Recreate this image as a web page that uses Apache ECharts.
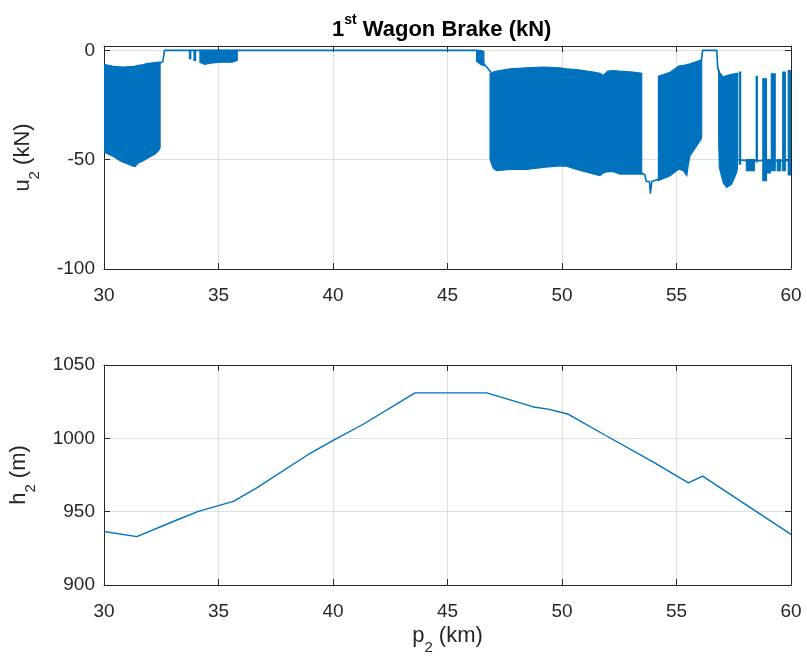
<!DOCTYPE html>
<html>
<head>
<meta charset="utf-8">
<script src="https://cdn.jsdelivr.net/npm/echarts@6/dist/echarts.min.js"></script>
<style>
  html, body { margin: 0; background: #fff; }
  #chart { width: 807px; height: 657px; }
</style>
</head>
<body>
<div id="chart"></div>
<script>
// x ticks (km)
const kmTicks = [30, 35, 40, 45, 50, 55, 60];

// brake force trace outside the dense oscillation bands ('-' breaks the line)
const traceKm = [32.45, 32.57, 32.64, 46.3, 46.3, 46.58, 46.7, 46.9, 46.9,
  53.48, 53.62, 53.68, 53.82, 53.86, 53.92, 54.05, 54.21, 54.21,
  56.08, 56.14, 56.76, 56.8, 56.87, 56.87,
  57.66, 58.0, 58.3, 58.6, 59.0, 59.5, 60];
const traceKN = [-6, -5, 0, 0, '-', -6, -7.5, -10, '-',
  -56, -57, -60, -60, -65.5, -60, -59.5, -59, '-',
  -5, 0, 0, -8, -10, '-',
  -50, -50.3, -50.2, -50.5, -50.2, -50.6, -50.4];

// envelopes of the dense oscillation: [km, upper kN, lower kN]
const bandA = [[30, -6.4, -46.5], [30.41, -7.3, -48.5], [30.7, -7.5, -50.5], [30.84, -7.6, -51.2],
  [31.28, -7.3, -53], [31.35, -7.2, -53.2], [31.5, -6.9, -51.5], [31.72, -6.5, -50.5],
  [31.86, -6.1, -49.6], [32.23, -5.6, -47.4], [32.37, -5.4, -46], [32.45, -5.4, -44.6]];
const bandB = [[34.19, 0, -5.5], [34.4, 0, -6.4], [34.65, 0, -5.8], [35.1, 0, -5.4],
  [35.6, 0, -5.4], [35.82, 0, -4.6]];
const bandC = [[46.27, 0, -5], [46.45, 0, -6.5], [46.59, -0.5, -7]];
const bandD = [[46.86, -10.5, -50], [47.0, -9.9, -54], [47.15, -9.5, -55], [47.73, -8.4, -54.5],
  [48.46, -8, -54.5], [49.18, -7.6, -53.5], [49.91, -8, -52.8], [50.2, -8.4, -53],
  [50.64, -8.8, -54.5], [51.37, -9.9, -56.5], [51.66, -10.5, -57.3], [51.8, -11.5, -56],
  [52.0, -9.5, -55.5], [52.24, -9.2, -55.5], [52.53, -9.5, -56.6], [53.1, -9.9, -56.6],
  [53.48, -10.5, -56.6]];
const bandE = [[54.21, -11.9, -59.6], [54.72, -10, -57.3], [55.1, -7.2, -54.3], [55.3, -6.9, -55],
  [55.45, -6.5, -57.3], [55.52, -6.3, -52], [55.59, -6.1, -48.2], [56.03, -4.6, -41.3],
  [56.1, -4.5, -40]];
const bandF = [[56.84, -9, -40], [56.87, -9.9, -53.5], [57.04, -12.2, -60.6], [57.19, -11.5, -62.7],
  [57.41, -11, -61.2], [57.63, -10.5, -55.8], [57.66, -10.5, -54]];

// narrow spikes / dips: [km from, km to, upper kN, lower kN]
const spikes = [[33.73, 33.79, 0, -3.8], [33.93, 34.0, 0, -4.6],
  [57.74, 57.8, -9.9, -52], [58.48, 58.53, -11.9, -51],
  [58.77, 58.93, -13, -59.6], [59.14, 59.31, -10.7, -55],
  [59.64, 59.75, -9.9, -55], [59.88, 60, -9.2, -57],
  [58.05, 58.4, -50, -55], [58.95, 59.1, -50, -56], [59.4, 59.55, -50, -55]];

// elevation profile
const hKm = [30, 31.43, 33.1, 34.12, 35.65, 36.67, 38.92, 40.09, 41.32, 43.58, 46.71,
  48.75, 49.4, 50.28, 51.95, 53.99, 55.52, 56.14, 60];
const hM = [936.5, 933, 943.8, 950.2, 957, 966.2, 989, 999.3, 1009.6, 1031, 1031,
  1021.4, 1019.9, 1016.4, 1001.6, 983.8, 969.6, 974.2, 934.5];

const blue = '#0072BD';
const ink = '#262626';
const font = 'Liberation Sans, Arial, sans-serif';

const uBands = [bandA, bandB, bandC, bandD, bandE, bandF]
  .concat(spikes.map(s => [[s[0], s[2], s[3]], [s[1], s[2], s[3]]]));

function bandItem(params, api) {
  const b = uBands[api.value(2)];
  const pts = b.map(p => api.coord([p[0], p[1]]))
    .concat(b.slice().reverse().map(p => api.coord([p[0], p[2]])));
  return {
    type: 'polygon',
    shape: { points: pts },
    style: { fill: blue, stroke: blue, lineWidth: 1.2 },
  };
}

const nameRich = {
  t: { fontSize: 22, fontFamily: font, color: ink, lineHeight: 30, verticalAlign: 'top' },
  s: { fontSize: 15, fontFamily: font, color: ink, lineHeight: 14, verticalAlign: 'bottom' },
};

function xAx(grid, top, extra) {
  return Object.assign({
    gridIndex: grid, type: 'value', min: 30, max: 60, interval: 5,
    position: top ? 'top' : 'bottom',
    axisLine: { show: true, onZero: false, lineStyle: { color: ink, width: 1 } },
    axisTick: { show: true, inside: true, length: 6, lineStyle: { color: ink } },
    axisLabel: { show: !top, color: ink, fontSize: 19, fontFamily: font, margin: 17 },
    splitLine: { show: !top, lineStyle: { color: '#dfdfdf', width: 1 } },
  }, extra || {});
}

function yAx(grid, right, min, max, extra) {
  return Object.assign({
    gridIndex: grid, type: 'value', min: min, max: max, interval: 50,
    position: right ? 'right' : 'left',
    axisLine: { show: true, onZero: false, lineStyle: { color: ink, width: 1 } },
    axisTick: { show: true, inside: true, length: 6, lineStyle: { color: ink } },
    axisLabel: {
      show: !right, color: ink, fontSize: 19, fontFamily: font, margin: 9,
      formatter: v => (v % 50 === 0 ? String(v) : ''),
    },
    splitLine: { show: !right, lineStyle: { color: '#dfdfdf', width: 1 } },
  }, extra || {});
}

const chart = echarts.init(document.getElementById('chart'), null, { renderer: 'canvas' });

chart.setOption({
  animation: false,
  backgroundColor: '#fff',
  title: {
    text: '{a|1}{s|st}{a| Wagon Brake (kN)}',
    left: 327,
    top: 8,
    textStyle: {
      rich: {
        a: { fontSize: 22, fontWeight: 'bold', fontFamily: font, color: '#000', lineHeight: 28, verticalAlign: 'bottom' },
        s: { fontSize: 14, fontWeight: 'bold', fontFamily: font, color: '#000', lineHeight: 14, verticalAlign: 'top' },
      },
    },
  },
  grid: [
    { left: 104, right: 16, top: 46, height: 223 },
    { left: 104, right: 16, top: 365, height: 220 },
  ],
  xAxis: [
    xAx(0, false),
    xAx(0, true),
    xAx(1, false, {
      name: '{t|p}{s|2}{t| (km)}',
      nameLocation: 'middle',
      nameGap: 40,
      nameTextStyle: { rich: nameRich },
    }),
    xAx(1, true),
  ],
  yAxis: [
    yAx(0, false, -100, 2, {
      name: '{t|u}{s|2}{t| (kN)}',
      nameLocation: 'middle',
      nameGap: 62,
      nameTextStyle: { rich: nameRich },
    }),
    yAx(0, true, -100, 2),
    yAx(1, false, 900, 1050, {
      name: '{t|h}{s|2}{t| (m)}',
      nameLocation: 'middle',
      nameGap: 66,
      nameTextStyle: { rich: nameRich },
    }),
    yAx(1, true, 900, 1050),
  ],
  series: [
    {
      name: 'trace',
      type: 'line',
      xAxisIndex: 0,
      yAxisIndex: 0,
      showSymbol: false,
      connectNulls: false,
      lineStyle: { color: blue, width: 1.6 },
      data: traceKm.map((k, i) => [k, traceKN[i]]),
    },
    {
      name: 'bands',
      type: 'custom',
      xAxisIndex: 0,
      yAxisIndex: 0,
      clip: true,
      renderItem: bandItem,
      data: uBands.map((b, i) => [b[0][0], b[0][1], i]),
    },
    {
      name: 'elevation',
      type: 'line',
      xAxisIndex: 2,
      yAxisIndex: 2,
      showSymbol: false,
      lineStyle: { color: blue, width: 1.4 },
      data: hKm.map((k, i) => [k, hM[i]]),
    },
  ],
});
</script>
</body>
</html>
